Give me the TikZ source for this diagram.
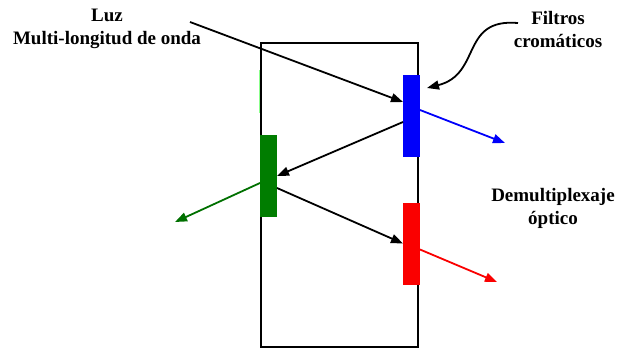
\documentclass[tikz,border=0pt]{standalone}
\usepackage{fontspec}
\setmainfont{Liberation Serif}
\usetikzlibrary{arrows.meta}
\definecolor{fblue}{RGB}{0,0,250}
\definecolor{fgreen}{RGB}{0,125,0}
\definecolor{fred}{RGB}{250,0,0}
\tikzset{
  filt/.style={draw=none, minimum width=17pt, minimum height=82pt, inner sep=0pt, outer sep=0pt},
  ray/.style={line width=1.8pt, -{Triangle[length=12pt,width=9pt]}},
  lbl/.style={font=\bfseries\fontsize{19}{23}\selectfont, align=center, inner sep=0pt},
}
\begin{document}
\begin{tikzpicture}[x=1pt,y=-1pt]
\useasboundingbox (0,0) rectangle (619,349);
% frame
\draw[line width=2.8pt] (261,347) -- (261,43) -- (418,43) -- (418,347) -- cycle;
\draw[green!45, line width=1pt] (259,70) -- (259,113);
% filters
\node[filt, fill=fblue] (blue) at (411.5,116) {};
\node[filt, fill=fgreen] (green) at (268.5,176) {};
\node[filt, fill=fred] (red) at (411.5,243.5) {};
% labels
\node[lbl] (luz) at (107,29) {Luz\\Multi-longitud de onda};
\node[lbl] (filtros) at (558,29) {Filtros\\cromáticos};
\node[lbl] (demux) at (553,208) {Demultiplexaje\\óptico};
% coordinates
\coordinate (in) at (190,22);
\coordinate (bout) at (505,143);
\coordinate (gout) at (175,222);
\coordinate (rout) at (497,282);
\coordinate (fstart) at (518,23);
\coordinate (ftip) at (427,88);
% rays
\draw[ray] (in) -- ([yshift=14pt]blue.west);
\draw[ray, fblue] ([yshift=6pt]blue.east) -- (bout);
\draw[ray] ([yshift=-6pt]blue.west) -- (green.east);
\draw[ray, fgreen!90!black] ([yshift=-7pt]green.west) -- (gout);
\draw[ray] ([yshift=-12pt]green.east) -- (red.west);
\draw[ray, fred] ([yshift=-6pt]red.east) -- (rout);
% pointer
\draw[ray] (fstart) .. controls (460,18) and (482,74) .. (ftip);
\end{tikzpicture}
\end{document}
